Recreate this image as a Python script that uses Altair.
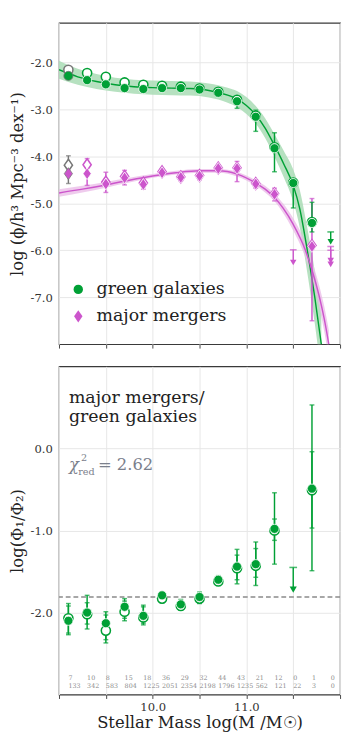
import altair as alt
import pandas as pd

GREEN = "#00a035"
GREEN_BAND = "#a9dcb5"
MAG = "#cc55cc"
MAG_BAND = "#eab9e7"
EDGE_GRAY = "#777777"
FONT = "DejaVu Serif"
DIAMOND = "M0,-1.3L0.9,0L0,1.3L-0.9,0Z"

# ---------------- data ----------------
bins = [9.1, 9.3, 9.5, 9.7, 9.9, 10.1, 10.3, 10.5, 10.7, 10.9, 11.1, 11.3, 11.5, 11.7]

green_fill = [-2.29, -2.38, -2.47, -2.55, -2.57, -2.55, -2.55, -2.58, -2.65, -2.83, -3.16, -3.83, -4.57, -5.42]
green_open = [-2.16, -2.23, -2.31, -2.43, -2.48, -2.50, -2.52, -2.56, -2.63, -2.80, -3.14, -3.81, -4.56, -5.40]
green_err_hi = [-2.23, -2.33, -2.42, -2.50, -2.52, -2.51, -2.51, -2.54, -2.60, -2.74, -3.02, -3.50, -4.51, -4.98]
green_err_lo = [-2.35, -2.43, -2.52, -2.60, -2.62, -2.60, -2.60, -2.63, -2.71, -2.98, -3.47, -4.33, -5.10, -5.61]

mag_fill = [-4.37, -4.37, -4.59, -4.46, -4.60, -4.35, -4.45, -4.42, -4.26, -4.26, -4.59, -4.81, None, -5.92]
mag_open = [-4.19, -4.18, -4.55, -4.43, -4.57, -4.33, -4.44, -4.41, -4.25, -4.25, -4.58, -4.80, None, -5.90]
mag_err_hi = [-3.99, -4.05, -4.34, -4.30, -4.50, -4.28, -4.38, -4.36, -4.20, -4.11, -4.50, -4.68, None, -4.90]
mag_err_lo = [-4.58, -4.62, -4.77, -4.61, -4.70, -4.42, -4.52, -4.50, -4.33, -4.54, -4.68, -4.95, None, -7.50]

# upper limits in the top panel
ul_x = [11.9, 11.5, 11.9, 11.9]
ul_cap = [-5.61, -5.99, -5.92, -6.00]
ul_tip = [-5.82, -6.26, -6.22, -6.30]
ul_series = ["g", "m", "m", "m"]

# fitted curves and their bands
gc_x = [9.0, 9.2, 9.4, 9.6, 9.8, 10.0, 10.2, 10.4, 10.6, 10.8, 10.9, 11.0, 11.1, 11.2, 11.3, 11.4, 11.5, 11.57, 11.65, 11.73, 11.80]
gc_y = [-2.16, -2.31, -2.41, -2.48, -2.52, -2.54, -2.55, -2.56, -2.60, -2.70, -2.78, -2.92, -3.12, -3.40, -3.77, -4.17, -4.62, -5.12, -6.00, -7.00, -8.00]
gc_hi = [-1.97, -2.14, -2.25, -2.33, -2.37, -2.39, -2.40, -2.41, -2.45, -2.54, -2.61, -2.74, -2.93, -3.19, -3.53, -3.89, -4.28, -4.72, -5.52, -6.44, -7.36]
gc_lo = [-2.35, -2.48, -2.57, -2.63, -2.67, -2.69, -2.70, -2.71, -2.75, -2.86, -2.95, -3.10, -3.31, -3.61, -4.01, -4.45, -4.96, -5.52, -6.48, -7.56, -8.64]

mc_x = [9.0, 9.25, 9.5, 9.75, 10.0, 10.25, 10.5, 10.7, 10.9, 11.1, 11.2, 11.3, 11.39, 11.5, 11.63, 11.7, 11.78, 11.83, 11.88]
mc_y = [-4.78, -4.70, -4.61, -4.51, -4.42, -4.35, -4.31, -4.31, -4.38, -4.57, -4.70, -4.88, -5.10, -5.45, -6.00, -6.42, -7.00, -7.45, -8.00]
mc_hi = [-4.70, -4.63, -4.55, -4.46, -4.38, -4.31, -4.27, -4.27, -4.33, -4.51, -4.63, -4.80, -5.00, -5.32, -5.84, -6.23, -6.77, -7.18, -7.70]
mc_lo = [-4.86, -4.77, -4.67, -4.56, -4.46, -4.39, -4.35, -4.35, -4.43, -4.63, -4.77, -4.96, -5.20, -5.58, -6.16, -6.61, -7.23, -7.72, -8.30]

# ratio panel
ratio_fill = [-2.10, -2.00, -2.13, -1.93, -2.04, -1.79, -1.90, -1.81, -1.60, -1.44, -1.41, -0.98, None, -0.49]
ratio_open = [-2.07, -2.02, -2.22, -1.99, -2.06, -1.83, -1.92, -1.83, -1.62, -1.46, -1.43, -1.00, None, -0.51]
ratio_err_hi = [-1.89, -1.79, -1.99, -1.83, -1.91, -1.75, -1.84, -1.75, -1.55, -1.23, -1.14, -0.54, None, 0.53]
ratio_err_lo = [-2.27, -2.20, -2.37, -2.10, -2.15, -1.88, -1.97, -1.89, -1.65, -1.65, -1.67, -1.41, None, -1.49]
ratio_in_hi = [-1.92, -1.88, -2.03, -1.86, -1.93, -1.77, -1.86, -1.77, -1.57, -1.30, -1.22, -0.86, None, -0.04]
ratio_in_lo = [-2.25, -2.14, -2.33, -2.07, -2.13, -1.86, -1.95, -1.87, -1.64, -1.60, -1.57, -1.12, None, -0.97]
ratio_ul_x = [11.5]
ratio_ul_cap = [-1.45]
ratio_ul_tip = [-1.72]
ratio_ref = [-1.81]

count_x = [9.1, 9.3, 9.5, 9.7, 9.9, 10.1, 10.3, 10.5, 10.7, 10.9, 11.1, 11.3, 11.5, 11.7, 11.9]
mergers_n = [7, 10, 8, 15, 18, 36, 29, 32, 44, 43, 21, 12, 0, 1, 0]
green_n = [133, 342, 583, 804, 1225, 2051, 2354, 2198, 1796, 1235, 562, 121, 22, 3, 0]

# ---------------- helpers ----------------
x_ticks = [9.0, 9.5, 10.0, 10.5, 11.0, 11.5, 12.0]
XS = alt.Scale(domain=[9, 12], nice=False, zero=False)
YS_TOP = alt.Scale(domain=[-8, -1.16], nice=False, zero=False)
YS_BOT = alt.Scale(domain=[-3, 1], nice=False, zero=False)

LBL = "replace(format(datum.value, '.1f'), '\u2212', '-')"
AX = dict(labelFont=FONT, labelFontSize=12, labelColor="#333", titleFont=FONT, titleFontSize=17,
          titleFontWeight="normal", titleColor="#222", gridColor="#e6e6e6", domain=False,
          tickColor="#444")

ax_x_top = alt.Axis(values=x_ticks, labels=False, ticks=True, tickSize=4, title=None, grid=True, **AX)
ax_x_bot = alt.Axis(values=x_ticks, ticks=True, tickSize=4, grid=True,
                    labelExpr="datum.value == 10 || datum.value == 11 ? format(datum.value, '.1f') : ''",
                    title="Stellar Mass log(M /M\u2609)", labelPadding=3, titlePadding=3, **AX)
ax_y_top = alt.Axis(values=[-7, -6, -5, -4, -3, -2], labelExpr=LBL, ticks=False, grid=True,
                    title="log (\u03d5/h\u00b3 Mpc\u207b\u00b3 dex\u207b\u00b9)", labelPadding=7, titlePadding=4, **AX)
ax_y_bot = alt.Axis(values=[-2, -1, 0], labelExpr=LBL, ticks=False, grid=True,
                    title="log(\u03a6\u2081/\u03a6\u2082)", labelPadding=7, titlePadding=4, **AX)

MS = 90  # marker size


def X(ax):
    return alt.X("x:Q", scale=XS, axis=ax)


def Y(ys, ax):
    return alt.Y("y:Q", scale=ys, axis=ax)


def points_df(xs, ys, colors, extra=None):
    rows = []
    for i, (xv, yv) in enumerate(zip(xs, ys)):
        if yv is None:
            continue
        r = {"x": xv, "y": yv, "c": colors[i]}
        if extra:
            for k, v in extra.items():
                r[k] = v[i]
        rows.append(r)
    return pd.DataFrame(rows)


def err_df(xs, lo, hi, colors):
    rows = [{"x": xv, "y": l, "y2": h, "c": colors[i]}
            for i, (xv, l, h) in enumerate(zip(xs, lo, hi)) if l is not None]
    return pd.DataFrame(rows)


def caps_df(e):
    a = e[["x", "y", "c"]]
    b = e[["x", "y2", "c"]].rename(columns={"y2": "y"})
    return pd.concat([a, b], ignore_index=True)


def err_layers(e, ys, ax_x, ax_y):
    rule = alt.Chart(e).mark_rule(strokeWidth=1.5).encode(
        x=X(ax_x), y=Y(ys, ax_y), y2="y2:Q", color=alt.Color("c:N", scale=None))
    caps = alt.Chart(caps_df(e)).mark_tick(orient="horizontal", size=5, thickness=1.5).encode(
        x=X(ax_x), y=Y(ys, ax_y), color=alt.Color("c:N", scale=None))
    return [rule, caps]


n = len(bins)
g_cols = [EDGE_GRAY] + [GREEN] * (n - 1)
m_cols = [EDGE_GRAY] + [MAG] * (n - 1)
edge_cols = [EDGE_GRAY] + ["white"] * (n - 1)

# ---------------- top panel ----------------
band_g = pd.DataFrame({"x": gc_x, "y": gc_lo, "y2": gc_hi})
band_m = pd.DataFrame({"x": mc_x, "y": mc_lo, "y2": mc_hi})
curve_g = pd.DataFrame({"x": gc_x, "y": gc_y})
curve_m = pd.DataFrame({"x": mc_x, "y": mc_y})

top_layers = []
top_layers.append(alt.Chart(band_g).mark_area(color=GREEN_BAND, opacity=0.85, clip=True, interpolate="monotone").encode(
    x=X(ax_x_top), y=Y(YS_TOP, ax_y_top), y2="y2:Q"))
top_layers.append(alt.Chart(band_m).mark_area(color=MAG_BAND, opacity=0.75, clip=True, interpolate="monotone").encode(
    x=X(ax_x_top), y=Y(YS_TOP, ax_y_top), y2="y2:Q"))
top_layers.append(alt.Chart(curve_g).mark_line(color=GREEN, strokeWidth=1.5, clip=True, interpolate="monotone").encode(
    x=X(ax_x_top), y=Y(YS_TOP, ax_y_top)))
top_layers.append(alt.Chart(curve_m).mark_line(color=MAG, strokeWidth=1.5, clip=True, interpolate="monotone").encode(
    x=X(ax_x_top), y=Y(YS_TOP, ax_y_top)))

top_layers += err_layers(err_df(bins, mag_err_lo, mag_err_hi, m_cols), YS_TOP, ax_x_top, ax_y_top)
top_layers += err_layers(err_df(bins, green_err_lo, green_err_hi, g_cols), YS_TOP, ax_x_top, ax_y_top)

# upper limits
ul_cols = [GREEN if s == "g" else MAG for s in ul_series]
ul_e = pd.DataFrame({"x": ul_x, "y": ul_tip, "y2": ul_cap, "c": ul_cols})
top_layers.append(alt.Chart(ul_e).mark_rule(strokeWidth=1.5).encode(
    x=X(ax_x_top), y=Y(YS_TOP, ax_y_top), y2="y2:Q", color=alt.Color("c:N", scale=None)))
top_layers.append(alt.Chart(pd.DataFrame({"x": ul_x, "y": ul_cap, "c": ul_cols})).mark_tick(
    orient="horizontal", size=7, thickness=1.6).encode(
    x=X(ax_x_top), y=Y(YS_TOP, ax_y_top), color=alt.Color("c:N", scale=None)))
top_layers.append(alt.Chart(pd.DataFrame({"x": ul_x, "y": ul_tip, "c": ul_cols})).mark_point(
    shape="triangle-down", filled=True, size=45, opacity=1).encode(
    x=X(ax_x_top), y=Y(YS_TOP, ax_y_top), color=alt.Color("c:N", scale=None)))

# open markers
open_m = points_df(bins, mag_open, m_cols)
open_m["s"] = DIAMOND
open_g = points_df(bins, green_open, g_cols)
open_g["s"] = "circle"
for dfo in (open_m, open_g):
    top_layers.append(alt.Chart(dfo).mark_point(filled=True, size=MS, strokeWidth=1.6, opacity=1, fill="white").encode(
        x=X(ax_x_top), y=Y(YS_TOP, ax_y_top), shape=alt.Shape("s:N", scale=None),
        stroke=alt.Stroke("c:N", scale=None)))

# filled markers (with legend)
fm = points_df(bins, mag_fill, m_cols, {"edge": edge_cols})
fm["series"] = "major mergers"
fg = points_df(bins, green_fill, g_cols, {"edge": edge_cols})
fg["series"] = "green galaxies"
filled = pd.concat([fm, fg], ignore_index=True)
leg = alt.Legend(orient="none", legendX=11, legendY=268, title=None, labelFont=FONT, labelFontSize=18,
                 labelColor="#222", symbolSize=95, labelOffset=10, rowPadding=10, padding=0,
                 symbolStrokeWidth=0, symbolOpacity=1)
series_dom = ["green galaxies", "major mergers"]
top_layers.append(alt.Chart(filled).mark_point(filled=True, size=MS, strokeWidth=0.8, opacity=1).encode(
    x=X(ax_x_top), y=Y(YS_TOP, ax_y_top),
    fill=alt.Fill("series:N", scale=alt.Scale(domain=series_dom, range=[GREEN, MAG]), legend=leg),
    shape=alt.Shape("series:N", scale=alt.Scale(domain=series_dom, range=["circle", DIAMOND]), legend=leg),
    stroke=alt.Stroke("edge:N", scale=None)))

top = alt.layer(*top_layers).properties(width=292, height=334)

# ---------------- bottom panel ----------------
bot_layers = []
bot_layers.append(alt.Chart(pd.DataFrame({"y": ratio_ref})).mark_rule(
    color="#8a8a8a", strokeWidth=1.5, strokeDash=[5, 3]).encode(y=Y(YS_BOT, ax_y_bot)))

gcols_b = [GREEN] * n
bot_layers += err_layers(err_df(bins, ratio_err_lo, ratio_err_hi, gcols_b), YS_BOT, ax_x_bot, ax_y_bot)
bot_layers += err_layers(err_df(bins, ratio_in_lo, ratio_in_hi, gcols_b), YS_BOT, ax_x_bot, ax_y_bot)

rul = pd.DataFrame({"x": ratio_ul_x, "y": ratio_ul_tip, "y2": ratio_ul_cap})
bot_layers.append(alt.Chart(rul).mark_rule(strokeWidth=1.5, color=GREEN).encode(
    x=X(ax_x_bot), y=Y(YS_BOT, ax_y_bot), y2="y2:Q"))
bot_layers.append(alt.Chart(pd.DataFrame({"x": ratio_ul_x, "y": ratio_ul_cap})).mark_tick(
    orient="horizontal", size=8, thickness=1.6, color=GREEN).encode(x=X(ax_x_bot), y=Y(YS_BOT, ax_y_bot)))
bot_layers.append(alt.Chart(pd.DataFrame({"x": ratio_ul_x, "y": ratio_ul_tip})).mark_point(
    shape="triangle-down", filled=True, size=55, opacity=1, color=GREEN).encode(x=X(ax_x_bot), y=Y(YS_BOT, ax_y_bot)))

bot_layers.append(alt.Chart(points_df(bins, ratio_open, gcols_b)).mark_point(
    filled=True, size=MS, strokeWidth=1.6, opacity=1, fill="white", stroke=GREEN).encode(
    x=X(ax_x_bot), y=Y(YS_BOT, ax_y_bot)))
bot_layers.append(alt.Chart(points_df(bins, ratio_fill, gcols_b)).mark_point(
    filled=True, size=MS, strokeWidth=0.8, opacity=1, fill=GREEN, stroke="white").encode(
    x=X(ax_x_bot), y=Y(YS_BOT, ax_y_bot)))

# annotations
ann_main = pd.DataFrame({"x": [9.106, 9.106], "y": [0.555, 0.317], "t": ["major mergers/", "green galaxies"]})
bot_layers.append(alt.Chart(ann_main).mark_text(align="left", baseline="alphabetic", font=FONT, fontSize=18,
                                                 color="#222").encode(
    x=X(ax_x_bot), y=Y(YS_BOT, ax_y_bot), text="t:N"))
chi_sym = pd.DataFrame({"x": [9.106], "y": [-0.266], "t": ["\u03c7"]})
bot_layers.append(alt.Chart(chi_sym).mark_text(align="left", baseline="alphabetic", font=FONT, fontSize=17,
                                                fontStyle="italic", color="#7b808c").encode(
    x=X(ax_x_bot), y=Y(YS_BOT, ax_y_bot), text="t:N"))
chi_val = pd.DataFrame({"x": [9.415], "y": [-0.266], "t": ["= 2.62"]})
bot_layers.append(alt.Chart(chi_val).mark_text(align="left", baseline="alphabetic", font=FONT, fontSize=17,
                                                color="#7b808c").encode(
    x=X(ax_x_bot), y=Y(YS_BOT, ax_y_bot), text="t:N"))
chi_small = pd.DataFrame({"x": [9.235, 9.204], "y": [-0.15, -0.32], "t": ["2", "red"]})
bot_layers.append(alt.Chart(chi_small).mark_text(align="left", baseline="alphabetic", font=FONT, fontSize=10,
                                                  color="#7b808c").encode(
    x=X(ax_x_bot), y=Y(YS_BOT, ax_y_bot), text="t:N"))

# counts
cnt = pd.DataFrame({"x": count_x * 2, "y": [-2.80] * len(count_x) + [-2.90] * len(count_x),
                    "t": [str(v) for v in mergers_n] + [str(v) for v in green_n]})
bot_layers.append(alt.Chart(cnt).mark_text(align="left", baseline="middle", font=FONT, fontSize=6.6,
                                           color="#8a8a8a").encode(
    x=X(ax_x_bot), y=Y(YS_BOT, ax_y_bot), text="t:N"))

bottom = alt.layer(*bot_layers).properties(width=292, height=341)

chart = alt.vconcat(top, bottom, spacing=16).properties(
    padding={"left": 0, "top": 0, "right": 0, "bottom": 0}
).configure(font=FONT).configure_view(stroke="#3a3a3a", strokeWidth=1.2).configure_legend(labelLimit=0)

chart.save("out.html", embed_options={"renderer": "svg", "actions": False})
